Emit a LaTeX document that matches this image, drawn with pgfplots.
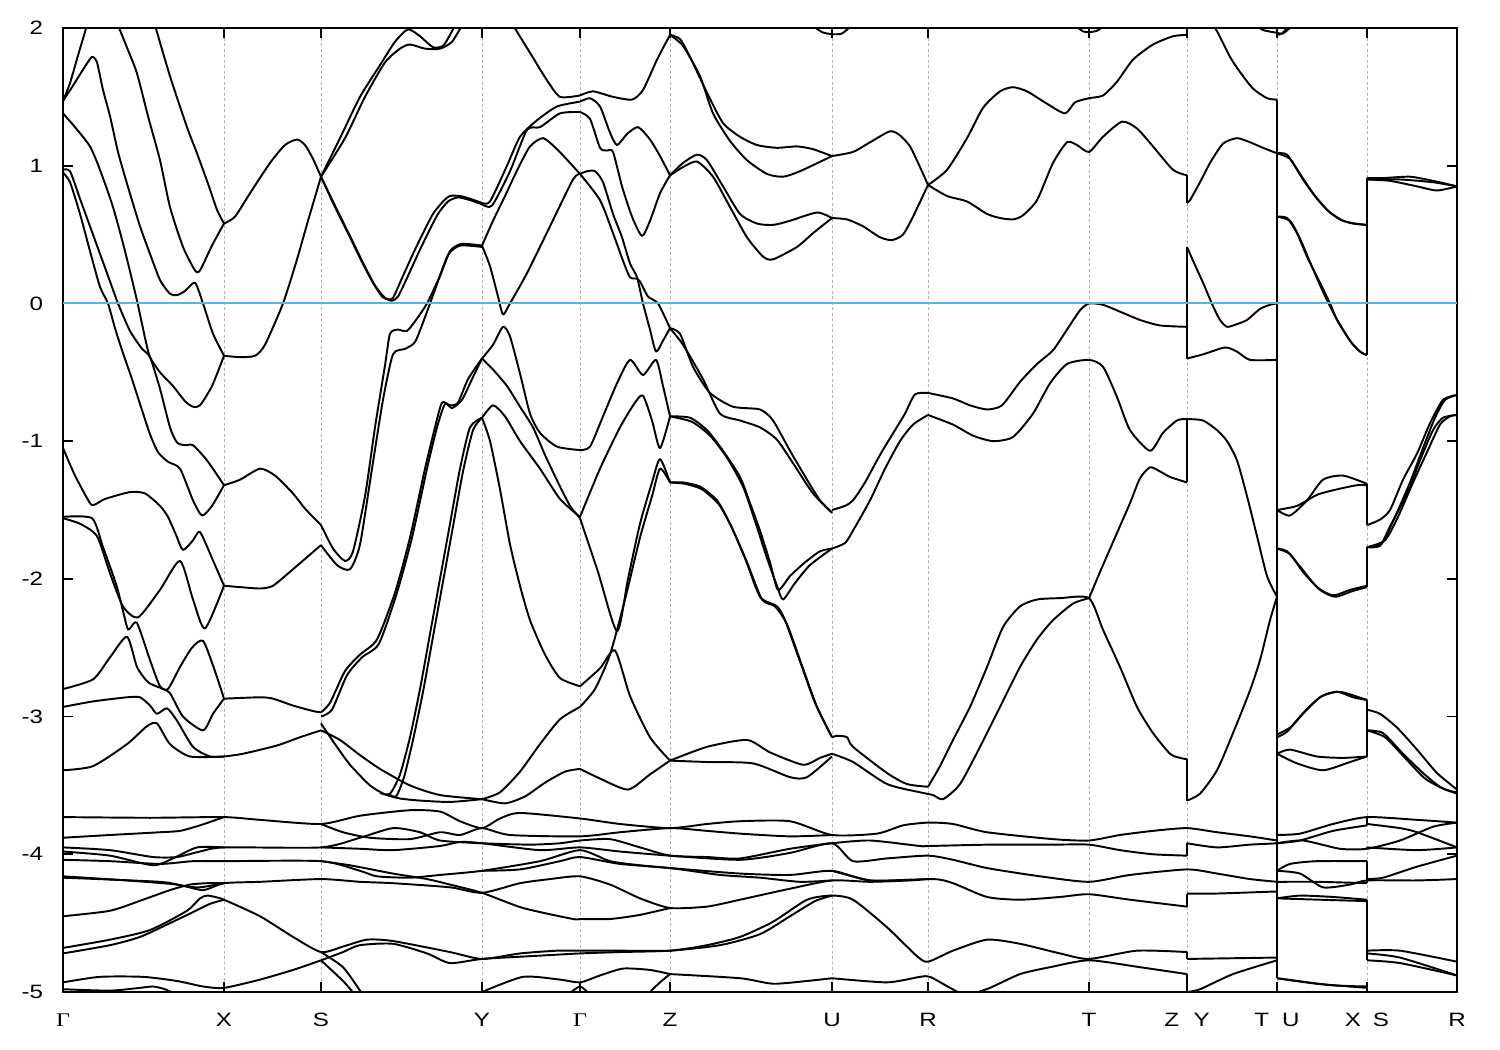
\documentclass[border=0pt]{standalone}
\usepackage{fontspec}
\setmainfont{Liberation Sans}
\newfontfamily\tickfont[FakeStretch=1.25]{Liberation Sans}
\newfontfamily\greekserif[FakeStretch=1.25]{Liberation Serif}
\usepackage{pgfplots}
\pgfplotsset{compat=1.18}
\definecolor{fermi}{RGB}{86,180,233}
% bd: smooth band piece, bj: straight piece (vertical jumps at path breaks)
\pgfplotsset{
  bj/.style={black, line width=1.1pt, line join=round},
  bd/.style={bj, smooth, tension=0.4},
}
\newcommand{\gam}{{\greekserif Γ}}

\begin{document}
\begin{tikzpicture}
\begin{axis}[
  scale only axis,
  width=27.88cm, height=19.28cm,
  xmin=63, xmax=1457, ymin=-5, ymax=2,
  xtick={63,224,321,482,580,670,832,928,1089,1187,1277,1367,1457},
  xticklabels={\gam,X,S,Y,\gam,Z,U,R,T,{Z\hspace{0.75em}Y},{T\hspace{0.67em}U},{X\hspace{0.62em}S},R},
  ytick={-5,-4,-3,-2,-1,0,1,2},
  yticklabels={-5,-4,-3,-2,-1,0,1,2},
  tick align=inside, tick pos=both,
  major tick length=0.2cm,
  every tick/.style={black, line width=1pt},
  axis line style={line width=1pt},
  xmajorgrids=true,
  major x grid style={gray!60, line width=0.5pt, dash pattern=on 0.055cm off 0.055cm},
  ticklabel style={font=\tickfont\fontsize{11}{13}\selectfont, inner sep=0pt},
  xticklabel style={anchor=north, yshift=-0.42cm},
  yticklabel style={anchor=east, xshift=-0.39cm},
  unbounded coords=jump,
]
% ---- Gamma - X
\addplot[bd] coordinates {(63,1.47) (70,1.6) (78,1.8) (87,2.02)};
\addplot[bd] coordinates {(63,1.47) (72,1.57) (85,1.72) (92,1.79) (97,1.75) (103,1.55) (110,1.36) (118,1.1) (127,0.87) (140,0.56) (150,0.36) (160,0.17) (170,0.07) (177,0.06) (185,0.09) (195,0.15) (203,0.0) (213,-0.22) (224,-0.38)};
\addplot[bd] coordinates {(118,2.02) (128,1.84) (137,1.67) (148,1.36) (160,1.04) (170,0.70) (183,0.41) (195,0.24) (200,0.24) (212,0.42) (224,0.58)};
\addplot[bd] coordinates {(155,2.02) (170,1.65) (187,1.28) (197,1.09) (208,0.87) (217,0.68) (224,0.58)};
\addplot[bd] coordinates {(63,1.38) (75,1.28) (90,1.14) (100,0.97) (113,0.70) (125,0.38) (137,0.02) (145,-0.25) (150,-0.39) (160,-0.5) (173,-0.6) (185,-0.71) (193,-0.75) (200,-0.74) (212,-0.6) (224,-0.38)};
\addplot[bd] coordinates {(63,0.97) (70,0.96) (80,0.76) (90,0.56) (100,0.36) (110,0.16) (118,0.0) (130,-0.2) (142,-0.33) (150,-0.39) (160,-0.62) (170,-0.9) (177,-1.01) (185,-1.03) (193,-1.03) (207,-1.14) (224,-1.32)};
\addplot[bd] coordinates {(63,0.95) (70,0.88) (80,0.65) (90,0.38) (100,0.12) (108,0.0) (115,-0.18) (123,-0.36) (132,-0.55) (140,-0.73) (150,-0.95) (158,-1.08) (168,-1.15) (180,-1.2) (193,-1.43) (202,-1.54) (212,-1.47) (224,-1.32)};
\addplot[bd] coordinates {(63,-1.05) (75,-1.25) (90,-1.45) (95,-1.46) (105,-1.42) (130,-1.37) (145,-1.38) (160,-1.47) (168,-1.55) (176,-1.68) (183,-1.79) (193,-1.72) (200,-1.66) (212,-1.85) (224,-2.05)};
\addplot[bd] coordinates {(63,-1.56) (80,-1.6) (97,-1.69) (110,-1.96) (123,-2.2) (138,-2.28) (160,-2.08) (180,-1.87) (193,-2.15) (205,-2.36) (224,-2.05)};
\addplot[bd] coordinates {(63,-1.55) (92,-1.56) (103,-1.77) (117,-2.06) (127,-2.35) (130,-2.36) (137,-2.32) (150,-2.59) (160,-2.78) (170,-2.83) (183,-3.0) (203,-3.1) (213,-2.98) (224,-2.87)};
\addplot[bd] coordinates {(63,-2.8) (93,-2.73) (110,-2.57) (127,-2.42) (137,-2.64) (148,-2.75) (160,-2.79) (168,-2.8) (180,-2.64) (192,-2.5) (203,-2.45) (214,-2.65) (224,-2.87)};
\addplot[bd] coordinates {(63,-2.93) (93,-2.89) (127,-2.86) (140,-2.86) (150,-2.92) (157,-2.98) (167,-2.94) (177,-3.03) (193,-3.22) (210,-3.29) (224,-3.29)};
\addplot[bd] coordinates {(63,-3.39) (93,-3.36) (127,-3.2) (147,-3.07) (157,-3.05) (170,-3.2) (190,-3.29) (224,-3.29)};
% ---- X - S
\addplot[bd] coordinates {(224,0.58) (235,0.63) (250,0.8) (270,1.02) (285,1.15) (297,1.19) (305,1.15) (313,1.05) (321,0.92)};
\addplot[bd] coordinates {(224,-0.38) (240,-0.39) (255,-0.38) (265,-0.3) (283,0.0) (297,0.32) (308,0.6) (321,0.92)};
\addplot[bd] coordinates {(224,-1.32) (240,-1.28) (260,-1.2) (275,-1.25) (293,-1.38) (305,-1.49) (321,-1.61)};
\addplot[bd] coordinates {(224,-2.05) (240,-2.06) (260,-2.07) (273,-2.05) (293,-1.93) (321,-1.755)};
\addplot[bd] coordinates {(224,-2.87) (260,-2.86) (273,-2.87) (293,-2.92) (313,-2.96) (321,-2.97)};
\addplot[bd] coordinates {(224,-3.29) (243,-3.27) (277,-3.21) (300,-3.15) (321,-3.1)};
% ---- S - Y
\addplot[bd] coordinates {(321,0.92) (340,1.2) (360,1.5) (380,1.73) (395,1.9) (408,1.99) (420,1.94) (433,1.86) (443,1.87) (450,1.95) (455,2.02)};
\addplot[bd] coordinates {(321,0.92) (345,1.2) (365,1.5) (385,1.75) (400,1.85) (410,1.88) (425,1.85) (440,1.85) (452,1.9) (462,2.02)};
\addplot[bd] coordinates {(321,0.92) (335,0.7) (350,0.48) (362,0.3) (373,0.15) (382,0.05) (388,0.03) (393,0.04) (403,0.2) (413,0.36) (423,0.51) (433,0.65) (443,0.74) (450,0.78) (460,0.78) (470,0.76) (482,0.73)};
\addplot[bd] coordinates {(321,0.92) (337,0.68) (352,0.46) (364,0.28) (375,0.13) (385,0.04) (392,0.02) (398,0.05) (408,0.2) (418,0.36) (428,0.51) (438,0.65) (448,0.74) (458,0.77) (470,0.75) (482,0.72)};
\addplot[bd] coordinates {(321,-1.61) (333,-1.78) (345,-1.87) (353,-1.8) (365,-1.4) (375,-0.9) (385,-0.45) (390,-0.22) (398,-0.19) (407,-0.2) (418,-0.1) (427,0.0) (440,0.2) (450,0.38) (460,0.43) (470,0.43) (482,0.42)};
\addplot[bd] coordinates {(321,-1.755) (337,-1.9) (350,-1.93) (360,-1.75) (372,-1.2) (383,-0.7) (393,-0.37) (405,-0.33) (415,-0.28) (425,-0.1) (435,0.1) (448,0.35) (460,0.42) (482,0.41)};
\addplot[bd] coordinates {(321,-2.97) (330,-2.9) (345,-2.67) (360,-2.55) (377,-2.44) (395,-2.1) (410,-1.7) (425,-1.2) (435,-0.9) (442,-0.72) (450,-0.74) (458,-0.72) (468,-0.55) (482,-0.4)};
\addplot[bd] coordinates {(321,-3.0) (332,-2.95) (347,-2.7) (362,-2.57) (379,-2.47) (397,-2.1) (412,-1.7) (427,-1.2) (437,-0.9) (445,-0.73) (452,-0.76) (462,-0.7) (472,-0.55) (482,-0.4)};
\addplot[bd] coordinates {(321,-3.05) (335,-3.2) (350,-3.35) (370,-3.5) (385,-3.565) (400,-3.595) (420,-3.61) (450,-3.62) (482,-3.6)};
\addplot[bd] coordinates {(321,-3.1) (340,-3.17) (360,-3.28) (380,-3.38) (410,-3.5) (440,-3.57) (482,-3.6)};
\addplot[bd] coordinates {(482,-0.83) (470,-0.9) (460,-1.2) (450,-1.6) (440,-2.0) (430,-2.4) (420,-2.8) (410,-3.15) (400,-3.42) (390,-3.56) (380,-3.555)};
\addplot[bd] coordinates {(482,-0.83) (473,-0.92) (463,-1.22) (453,-1.62) (443,-2.02) (433,-2.42) (423,-2.82) (413,-3.17) (404,-3.44) (396,-3.58) (388,-3.56)};
% ---- Y - Gamma
\addplot[bd] coordinates {(513,2.02) (530,1.82) (547,1.62) (560,1.5) (580,1.51)};
\addplot[bd] coordinates {(482,0.73) (490,0.74) (507,1.0) (520,1.21) (537,1.33) (557,1.43) (580,1.465)};
\addplot[bd] coordinates {(482,0.72) (492,0.71) (510,0.96) (527,1.26) (540,1.28) (560,1.38) (580,1.39)};
\addplot[bd] coordinates {(482,0.42) (493,0.6) (505,0.78) (518,0.98) (530,1.14) (543,1.2) (557,1.12) (570,1.02) (580,0.94)};
\addplot[bd] coordinates {(482,0.42) (490,0.27) (498,0.05) (503,-0.08) (510,0.0) (527,0.22) (550,0.56) (573,0.9) (580,0.94)};
\addplot[bd] coordinates {(482,-0.4) (493,-0.3) (503,-0.17) (510,-0.24) (520,-0.51) (530,-0.8) (540,-0.94) (557,-1.04) (580,-1.065)};
\addplot[bd] coordinates {(482,-0.4) (493,-0.48) (507,-0.6) (520,-0.75) (533,-0.9) (545,-1.1) (558,-1.3) (570,-1.47) (580,-1.56)};
\addplot[bd] coordinates {(482,-0.83) (493,-0.74) (505,-0.82) (520,-1.0) (540,-1.2) (560,-1.42) (580,-1.55)};
\addplot[bd] coordinates {(482,-0.83) (490,-1.0) (500,-1.35) (510,-1.75) (520,-2.05) (530,-2.3) (545,-2.55) (560,-2.72) (580,-2.78)};
\addplot[bd] coordinates {(482,-3.6) (500,-3.55) (520,-3.4) (540,-3.2) (560,-3.02) (580,-2.93)};
\addplot[bd] coordinates {(482,-3.6) (505,-3.63) (525,-3.58) (545,-3.48) (565,-3.4) (580,-3.38)};
% ---- Gamma - Z
\addplot[bd] coordinates {(580,1.51) (593,1.54) (613,1.5) (632,1.48) (643,1.55) (657,1.77) (670,1.95)};
\addplot[bd] coordinates {(580,1.465) (590,1.49) (600,1.43) (610,1.24) (617,1.15) (627,1.23) (638,1.28) (650,1.19) (660,1.07) (670,0.93)};
\addplot[bd] coordinates {(580,1.39) (590,1.34) (600,1.13) (607,1.11) (613,1.1) (622,0.85) (632,0.63) (642,0.49) (650,0.6) (660,0.8) (670,0.93)};
\addplot[bd] coordinates {(580,0.94) (587,0.96) (595,0.96) (603,0.88) (613,0.65) (622,0.48) (630,0.29) (637,0.19) (643,0.0) (650,-0.19) (656,-0.35) (663,-0.27) (670,-0.18)};
\addplot[bd] coordinates {(580,0.94) (600,0.75) (613,0.51) (623,0.31) (630,0.19) (637,0.18) (640,0.16) (648,0.05) (658,0.0) (670,-0.18)};
\addplot[bd] coordinates {(580,-1.065) (590,-1.04) (603,-0.82) (617,-0.58) (630,-0.41) (643,-0.52) (656,-0.41) (663,-0.6) (670,-0.82)};
\addplot[bd] coordinates {(580,-1.55) (600,-1.2) (620,-0.9) (635,-0.72) (643,-0.67) (652,-0.85) (660,-1.05) (670,-0.82)};
\addplot[bd] coordinates {(580,-1.56) (598,-1.95) (617,-2.38) (628,-2.0) (640,-1.6) (652,-1.3) (660,-1.13) (670,-1.3)};
\addplot[bd] coordinates {(580,-2.93) (595,-2.8) (610,-2.55) (625,-2.15) (640,-1.7) (652,-1.4) (660,-1.2) (670,-1.3)};
\addplot[bd] coordinates {(580,-2.78) (600,-2.65) (615,-2.52) (630,-2.85) (650,-3.15) (670,-3.32)};
\addplot[bd] coordinates {(580,-3.38) (600,-3.45) (628,-3.53) (650,-3.42) (670,-3.32)};
% ---- Z - U
\addplot[bd] coordinates {(670,1.95) (680,1.92) (690,1.79) (707,1.53) (723,1.31) (740,1.21) (757,1.15) (777,1.13) (797,1.14) (813,1.12) (832,1.07)};
\addplot[bd] coordinates {(670,1.95) (683,1.87) (700,1.65) (713,1.38) (730,1.18) (747,1.04) (767,0.94) (783,0.92) (800,0.96) (832,1.07)};
\addplot[bd] coordinates {(670,0.93) (683,1.02) (697,1.08) (707,1.04) (723,0.85) (740,0.65) (757,0.58) (773,0.57) (790,0.6) (817,0.66) (832,0.62)};
\addplot[bd] coordinates {(670,0.93) (683,0.99) (697,1.03) (713,0.92) (730,0.7) (747,0.48) (763,0.34) (773,0.32) (797,0.41) (813,0.51) (832,0.62)};
\addplot[bd] coordinates {(670,-0.18) (680,-0.22) (693,-0.46) (710,-0.65) (733,-0.75) (760,-0.77) (773,-0.85) (790,-1.07) (807,-1.28) (820,-1.43) (832,-1.52)};
\addplot[bd] coordinates {(670,-0.18) (683,-0.3) (703,-0.55) (720,-0.8) (740,-0.85) (760,-0.9) (777,-0.99) (793,-1.16) (813,-1.38) (832,-1.52)};
\addplot[bd] coordinates {(670,-0.82) (690,-0.83) (707,-0.92) (723,-1.07) (740,-1.26) (750,-1.45) (760,-1.65) (770,-1.88) (778,-2.08) (790,-1.98) (805,-1.88) (820,-1.8) (832,-1.78)};
\addplot[bd] coordinates {(670,-0.82) (692,-0.86) (710,-0.96) (727,-1.12) (743,-1.33) (755,-1.58) (767,-1.85) (777,-2.05) (783,-2.15) (795,-2.03) (810,-1.9) (832,-1.78)};
\addplot[bd] coordinates {(670,-1.3) (683,-1.3) (700,-1.33) (717,-1.43) (730,-1.6) (745,-1.85) (760,-2.13) (777,-2.2) (785,-2.3) (800,-2.6) (815,-2.9) (832,-3.15)};
\addplot[bd] coordinates {(670,-1.3) (685,-1.31) (702,-1.35) (719,-1.46) (732,-1.63) (747,-1.88) (762,-2.15) (775,-2.2) (787,-2.33) (802,-2.63) (817,-2.93) (832,-3.15)};
\addplot[bd] coordinates {(670,-3.32) (707,-3.22) (747,-3.17) (770,-3.26) (803,-3.35) (820,-3.3) (832,-3.27)};
\addplot[bd] coordinates {(670,-3.32) (707,-3.33) (753,-3.34) (790,-3.44) (807,-3.44) (832,-3.29)};
% ---- U - R
\addplot[bd] coordinates {(812,2.02) (822,1.97) (832,1.955) (842,1.96) (852,2.02)};
\addplot[bd] coordinates {(832,1.07) (853,1.1) (870,1.17) (890,1.25) (900,1.22) (910,1.14) (920,0.99) (928,0.86)};
\addplot[bd] coordinates {(832,0.62) (847,0.61) (863,0.56) (880,0.48) (892,0.46) (903,0.5) (913,0.63) (928,0.86)};
\addplot[bd] coordinates {(832,-1.5) (845,-1.47) (853,-1.43) (865,-1.3) (880,-1.1) (895,-0.92) (905,-0.8) (915,-0.66) (928,-0.65)};
\addplot[bd] coordinates {(832,-1.78) (845,-1.74) (853,-1.65) (870,-1.43) (885,-1.2) (900,-1.0) (913,-0.88) (928,-0.81)};
\addplot[bd] coordinates {(832,-3.15) (837,-3.14) (847,-3.15) (853,-3.22) (887,-3.41) (907,-3.49) (928,-3.51)};
\addplot[bd] coordinates {(832,-3.27) (853,-3.33) (887,-3.49) (920,-3.55) (933,-3.57) (943,-3.6) (960,-3.49) (980,-3.22) (1000,-2.93) (1020,-2.64) (1037,-2.44) (1053,-2.3) (1073,-2.18) (1089,-2.14)};
% ---- R - T - Z
\addplot[bd] coordinates {(928,0.86) (947,0.97) (967,1.2) (983,1.42) (1000,1.54) (1013,1.57) (1027,1.54) (1047,1.45) (1065,1.38) (1075,1.46) (1089,1.49) (1103,1.51) (1117,1.61) (1133,1.77) (1153,1.88) (1173,1.94) (1187,1.95)};
\addplot[bd] coordinates {(928,0.86) (947,0.78) (967,0.74) (987,0.65) (1000,0.62) (1013,0.61) (1023,0.64) (1037,0.75) (1053,1.02) (1067,1.17) (1077,1.15) (1089,1.1) (1103,1.21) (1122,1.32) (1137,1.27) (1153,1.14) (1173,0.97) (1187,0.93)};
\addplot[bd] coordinates {(928,-0.65) (953,-0.69) (970,-0.74) (987,-0.77) (1002,-0.74) (1020,-0.57) (1037,-0.44) (1053,-0.34) (1067,-0.19) (1080,-0.05) (1089,0.0) (1103,-0.01) (1120,-0.06) (1140,-0.12) (1160,-0.16) (1187,-0.17)};
\addplot[bd] coordinates {(928,-0.81) (953,-0.88) (973,-0.96) (993,-1.0) (1013,-0.97) (1033,-0.8) (1050,-0.58) (1067,-0.44) (1089,-0.41) (1103,-0.46) (1117,-0.68) (1130,-0.92) (1150,-1.07) (1163,-0.94) (1177,-0.85) (1187,-0.84) (1203,-0.85) (1217,-0.92) (1227,-1.0) (1237,-1.14) (1247,-1.4) (1257,-1.69) (1267,-1.98) (1277,-2.13)};
\addplot[bd] coordinates {(928,-3.51) (940,-3.36) (953,-3.17) (970,-2.93) (987,-2.64) (1003,-2.35) (1020,-2.2) (1037,-2.15) (1060,-2.14) (1089,-2.14) (1103,-2.37) (1120,-2.64) (1137,-2.93) (1153,-3.12) (1170,-3.27) (1180,-3.3) (1187,-3.31)};
\addplot[bd] coordinates {(1089,-2.14) (1100,-1.95) (1115,-1.7) (1130,-1.45) (1140,-1.27) (1150,-1.19) (1160,-1.22) (1170,-1.26) (1187,-1.3)};
\addplot[bd] coordinates {(1075,2.02) (1083,1.975) (1089,1.97) (1097,1.98) (1105,2.02)};
% ---- Y - T
\addplot[bd] coordinates {(1200,2.1) (1215,2.0) (1230,1.79) (1240,1.68) (1253,1.56) (1267,1.49) (1277,1.48)};
\addplot[bd] coordinates {(1187,0.73) (1190,0.75) (1200,0.88) (1210,1.02) (1223,1.16) (1237,1.2) (1250,1.17) (1263,1.13) (1277,1.09)};
\addplot[bd] coordinates {(1187,0.41) (1193,0.31) (1203,0.15) (1213,-0.02) (1220,-0.12) (1227,-0.17) (1237,-0.15) (1247,-0.12) (1260,-0.04) (1270,-0.01) (1277,0.0)};
\addplot[bd] coordinates {(1187,-0.4) (1203,-0.37) (1225,-0.32) (1237,-0.35) (1250,-0.41) (1277,-0.41)};
\addplot[bd] coordinates {(1187,-3.61) (1200,-3.56) (1217,-3.39) (1233,-3.12) (1250,-2.81) (1260,-2.59) (1270,-2.30) (1277,-2.13)};
\addplot[bd] coordinates {(1257,2.02) (1263,1.985) (1277,1.965) (1283,1.96) (1293,2.02)};
\addplot[bd] coordinates {(1277,1.95) (1282,1.96) (1290,2.02)};
% ---- U - X
\addplot[bd] coordinates {(1277,1.09) (1287,1.08) (1300,0.94) (1313,0.80) (1327,0.68) (1340,0.61) (1353,0.58) (1367,0.57)};
\addplot[bd] coordinates {(1277,1.09) (1290,1.05) (1303,0.9) (1317,0.76) (1330,0.66) (1343,0.6) (1355,0.58) (1367,0.57)};
\addplot[bd] coordinates {(1277,0.63) (1287,0.62) (1297,0.51) (1307,0.34) (1320,0.15) (1330,0.0) (1337,-0.12) (1350,-0.27) (1360,-0.35) (1367,-0.375)};
\addplot[bd] coordinates {(1277,0.63) (1290,0.6) (1300,0.47) (1310,0.3) (1322,0.1) (1332,-0.05) (1342,-0.18) (1353,-0.3) (1362,-0.36) (1367,-0.375)};
\addplot[bd] coordinates {(1277,-1.5) (1290,-1.54) (1307,-1.43) (1323,-1.28) (1343,-1.25) (1367,-1.31)};
\addplot[bd] coordinates {(1277,-1.5) (1297,-1.47) (1317,-1.39) (1337,-1.35) (1357,-1.32) (1367,-1.32)};
\addplot[bd] coordinates {(1277,-1.78) (1287,-1.8) (1300,-1.91) (1317,-2.06) (1333,-2.12) (1350,-2.08) (1367,-2.05)};
\addplot[bd] coordinates {(1277,-1.78) (1290,-1.82) (1303,-1.95) (1320,-2.08) (1335,-2.13) (1352,-2.09) (1367,-2.06)};
\addplot[bd] coordinates {(1277,-3.15) (1287,-3.11) (1303,-2.98) (1320,-2.86) (1337,-2.82) (1353,-2.86) (1367,-2.88)};
\addplot[bd] coordinates {(1277,-3.13) (1290,-3.08) (1305,-2.96) (1322,-2.85) (1340,-2.82) (1367,-2.88)};
\addplot[bd] coordinates {(1277,-3.27) (1290,-3.24) (1317,-3.29) (1343,-3.3) (1367,-3.29)};
\addplot[bd] coordinates {(1277,-3.27) (1297,-3.34) (1323,-3.39) (1350,-3.33) (1367,-3.29)};
% ---- S - R
\addplot[bd] coordinates {(1367,0.91) (1383,0.91) (1410,0.92) (1433,0.89) (1457,0.85)};
\addplot[bd] coordinates {(1367,0.9) (1390,0.89) (1417,0.85) (1437,0.82) (1457,0.85)};
\addplot[bd] coordinates {(1367,0.9) (1400,0.9) (1433,0.88) (1457,0.85)};
\addplot[bd] coordinates {(1367,-1.61) (1380,-1.57) (1390,-1.5) (1403,-1.28) (1417,-1.09) (1430,-0.87) (1443,-0.70) (1457,-0.665)};
\addplot[bd] coordinates {(1367,-1.77) (1380,-1.76) (1390,-1.62) (1407,-1.38) (1420,-1.14) (1433,-0.92) (1443,-0.83) (1457,-0.81)};
\addplot[bd] coordinates {(1367,-1.77) (1382,-1.74) (1395,-1.55) (1410,-1.3) (1423,-1.05) (1435,-0.83) (1445,-0.7) (1457,-0.665)};
\addplot[bd] coordinates {(1367,-1.77) (1385,-1.72) (1398,-1.55) (1413,-1.3) (1427,-1.08) (1440,-0.88) (1450,-0.82) (1457,-0.81)};
\addplot[bd] coordinates {(1367,-2.95) (1380,-2.98) (1397,-3.08) (1417,-3.24) (1437,-3.41) (1457,-3.53)};
\addplot[bd] coordinates {(1367,-3.1) (1383,-3.12) (1403,-3.27) (1423,-3.41) (1440,-3.51) (1457,-3.56)};
\addplot[bd] coordinates {(1367,-3.1) (1385,-3.15) (1405,-3.3) (1425,-3.45) (1445,-3.53) (1457,-3.55)};
% ---- lower manifold
\addplot[bd] coordinates {(63,-3.73) (150,-3.735) (224,-3.73) (260,-3.75) (321,-3.78) (360,-3.72) (410,-3.68) (440,-3.69) (460,-3.76) (482,-3.81) (500,-3.74) (520,-3.7) (580,-3.74) (620,-3.78) (670,-3.81) (707,-3.78) (740,-3.76) (790,-3.76) (832,-3.86) (877,-3.85) (903,-3.79) (928,-3.77) (953,-3.78) (987,-3.84) (1053,-3.89) (1089,-3.9) (1120,-3.86) (1153,-3.83) (1187,-3.81) (1217,-3.84) (1250,-3.87) (1277,-3.9)};
\addplot[bd] coordinates {(1277,-3.86) (1300,-3.85) (1333,-3.78) (1367,-3.73) (1417,-3.75) (1457,-3.77)};
\addplot[bd] coordinates {(63,-3.88) (110,-3.86) (160,-3.84) (180,-3.83) (200,-3.79) (224,-3.73)};
\addplot[bd] coordinates {(63,-3.95) (110,-3.97) (153,-4.02) (177,-4.02) (200,-3.98) (224,-3.95) (321,-3.95) (360,-3.88) (393,-3.81) (420,-3.84) (440,-3.9) (482,-3.92) (530,-3.93) (560,-3.92) (580,-3.9) (610,-3.89) (640,-3.95) (670,-4.01) (707,-4.02) (740,-4.03) (790,-3.96) (832,-3.92) (870,-3.9) (920,-3.94) (928,-3.94) (990,-3.93) (1053,-3.93) (1089,-3.93) (1120,-3.97) (1153,-4.0) (1187,-4.01)};
\addplot[bd] coordinates {(1187,-3.92) (1217,-3.95) (1250,-3.93) (1277,-3.92) (1300,-3.9) (1333,-3.83) (1367,-3.79)};
\addplot[bd] coordinates {(1367,-3.78) (1400,-3.81) (1417,-3.84) (1457,-3.95)};
\addplot[bd] coordinates {(63,-3.98) (110,-4.01) (153,-4.08) (173,-4.03) (197,-3.95) (224,-3.95)};
\addplot[bd] coordinates {(63,-4.04) (110,-4.05) (160,-4.07) (193,-4.05) (224,-4.05) (321,-4.05) (360,-4.12) (377,-4.16) (410,-4.17) (440,-4.15) (482,-4.12) (540,-4.05) (580,-3.97) (610,-4.05) (640,-4.08) (670,-4.1) (740,-4.14) (790,-4.15) (832,-4.12) (870,-4.19) (933,-4.18) (953,-4.21) (987,-4.31) (1020,-4.33) (1060,-4.31) (1089,-4.29) (1130,-4.33) (1187,-4.38)};
\addplot[bd] coordinates {(1187,-4.285) (1217,-4.285) (1277,-4.27)};
\addplot[bd] coordinates {(1277,-4.32) (1300,-4.3) (1333,-4.31) (1367,-4.33)};
\addplot[bd] coordinates {(1367,-4.7) (1400,-4.7) (1457,-4.78)};
\addplot[bd] coordinates {(63,-4.16) (127,-4.19) (177,-4.22) (203,-4.26) (224,-4.21) (260,-4.2) (321,-4.18) (360,-4.2) (393,-4.21) (450,-4.24) (482,-4.28) (520,-4.21) (550,-4.18) (580,-4.16) (610,-4.22) (640,-4.32) (670,-4.39) (707,-4.38) (740,-4.33) (790,-4.25) (832,-4.19) (870,-4.2) (910,-4.19) (928,-4.18)};
\addplot[bd] coordinates {(63,-4.17) (160,-4.2) (183,-4.23) (200,-4.24) (224,-4.21)};
\addplot[bd] coordinates {(63,-4.45) (110,-4.41) (143,-4.33) (170,-4.26) (190,-4.22) (207,-4.21) (224,-4.21)};
\addplot[bd] coordinates {(63,-4.68) (110,-4.62) (150,-4.55) (187,-4.41) (200,-4.32) (207,-4.30) (215,-4.31) (224,-4.33) (260,-4.45) (293,-4.6) (321,-4.71) (343,-4.67) (367,-4.62) (393,-4.63) (450,-4.71) (482,-4.76) (520,-4.72) (557,-4.7) (580,-4.7) (620,-4.7) (670,-4.7) (707,-4.66) (740,-4.6) (773,-4.49) (807,-4.33) (832,-4.3) (853,-4.33) (887,-4.53) (917,-4.74) (928,-4.78) (953,-4.7) (987,-4.62) (1020,-4.65) (1060,-4.72) (1089,-4.76) (1137,-4.70) (1187,-4.71)};
\addplot[bd] coordinates {(1187,-4.76) (1277,-4.75)};
\addplot[bd] coordinates {(1277,-4.9) (1317,-4.94) (1367,-4.97)};
\addplot[bd] coordinates {(1367,-4.77) (1400,-4.79) (1457,-4.88)};
\addplot[bd] coordinates {(63,-4.72) (110,-4.66) (140,-4.6) (170,-4.5) (193,-4.42) (210,-4.36) (224,-4.33)};
\addplot[bd] coordinates {(63,-4.93) (100,-4.89) (143,-4.89) (177,-4.92) (203,-4.96) (224,-4.97) (260,-4.91) (293,-4.84) (321,-4.77) (343,-4.71) (360,-4.66) (393,-4.65) (427,-4.72) (450,-4.79) (482,-4.76) (530,-4.74) (580,-4.72) (620,-4.71) (670,-4.7) (720,-4.66) (760,-4.58) (790,-4.45) (815,-4.34) (832,-4.3)};
\addplot[bd] coordinates {(63,-4.98) (110,-4.99) (140,-4.97) (153,-4.96) (165,-4.98) (177,-5.02)};
\addplot[bd] coordinates {(321,-4.71) (343,-4.82) (360,-4.99) (362,-5.02)};
\addplot[bd] coordinates {(321,-4.77) (343,-4.92) (355,-5.02)};
\addplot[bd] coordinates {(321,-3.78) (343,-3.84) (370,-3.88) (410,-3.89) (440,-3.84) (460,-3.86) (482,-3.81) (510,-3.86) (580,-3.87) (620,-3.84) (670,-3.81) (707,-3.83) (740,-3.85) (790,-3.87) (832,-3.86)};
\addplot[bd] coordinates {(321,-3.95) (360,-3.96) (393,-3.97) (440,-3.94) (460,-3.91) (482,-3.92) (540,-3.97) (580,-3.95) (620,-3.98) (670,-4.01) (740,-4.04) (790,-3.99) (832,-3.92) (853,-4.05) (887,-4.03) (928,-4.01) (953,-4.04) (987,-4.1) (1040,-4.16) (1089,-4.2) (1130,-4.15) (1187,-4.11) (1217,-4.14) (1250,-4.18) (1277,-4.2)};
\addplot[bd] coordinates {(1277,-4.12) (1290,-4.07) (1317,-4.05) (1367,-4.05)};
\addplot[bd] coordinates {(1367,-4.18) (1383,-4.17) (1417,-4.09) (1457,-4.01)};
\addplot[bd] coordinates {(321,-4.05) (350,-4.08) (393,-4.14) (427,-4.18) (450,-4.22) (482,-4.28) (523,-4.39) (573,-4.47) (580,-4.47) (610,-4.47) (640,-4.44) (670,-4.39)};
\addplot[bd] coordinates {(482,-4.12) (520,-4.11) (560,-4.05) (580,-4.02) (620,-4.07) (670,-4.1) (720,-4.15) (760,-4.17) (800,-4.2) (832,-4.19)};
\addplot[bd] coordinates {(832,-4.12) (870,-4.19) (900,-4.19)};
\addplot[bd] coordinates {(832,-4.9) (887,-4.93) (920,-4.89) (930,-4.89) (950,-4.97) (963,-5.02)};
\addplot[bd] coordinates {(670,-4.87) (740,-4.9) (773,-4.94) (807,-4.92) (832,-4.9)};
\addplot[bd] coordinates {(482,-5.0) (523,-4.89) (560,-4.91) (580,-4.93) (600,-4.88) (623,-4.83) (650,-4.84) (670,-4.87)};
\addplot[bd] coordinates {(647,-5.02) (660,-4.93) (670,-4.87)};
\addplot[bd] coordinates {(568,-5.02) (580,-4.96) (590,-5.02)};
\addplot[bd] coordinates {(970,-5.02) (990,-4.97) (1020,-4.87) (1050,-4.82) (1089,-4.77) (1140,-4.82) (1187,-4.87)};
\addplot[bd] coordinates {(1187,-5.0) (1200,-4.98) (1233,-4.87) (1277,-4.77)};
\addplot[bd] coordinates {(1277,-3.92) (1303,-3.9) (1340,-3.96) (1367,-3.96) (1400,-3.9) (1433,-3.8) (1457,-3.77)};
\addplot[bd] coordinates {(1277,-4.12) (1300,-4.14) (1323,-4.24) (1350,-4.22) (1367,-4.19) (1417,-4.19) (1457,-4.18)};
\addplot[bd] coordinates {(1277,-4.2) (1317,-4.2) (1367,-4.21)};
\addplot[bd] coordinates {(1277,-4.32) (1320,-4.33) (1367,-4.34)};
\addplot[bd] coordinates {(1277,-4.9) (1330,-4.95) (1367,-4.96)};
\addplot[bd] coordinates {(1367,-3.95) (1417,-3.97) (1457,-3.95)};
\addplot[bd] coordinates {(1367,-4.72) (1400,-4.75) (1457,-4.88)};
% ---- vertical jumps where the path breaks (Z|Y, T|U, X|S)
\addplot[bj] coordinates {(1187,1.95) (1187,2.1) (1187,nan) (1187,0.93) (1187,0.73) (1187,nan) (1187,0.41) (1187,-0.4) (1187,nan) (1187,-0.84) (1187,-1.3) (1187,nan) (1187,-3.31) (1187,-3.61) (1187,nan) (1187,-3.92) (1187,-4.01) (1187,nan) (1187,-4.285) (1187,-4.38) (1187,nan) (1187,-4.71) (1187,-4.76) (1187,nan) (1187,-4.87) (1187,-5.0)};
\addplot[bj] coordinates {(1277,1.48) (1277,-4.9)};
\addplot[bj] coordinates {(1367,0.91) (1367,-0.375) (1367,nan) (1367,-1.31) (1367,-1.61) (1367,nan) (1367,-1.77) (1367,-2.06) (1367,nan) (1367,-2.88) (1367,-3.29) (1367,nan) (1367,-3.73) (1367,-3.79) (1367,nan) (1367,-3.95) (1367,-3.96) (1367,nan) (1367,-4.05) (1367,-4.21) (1367,nan) (1367,-4.33) (1367,-4.77) (1367,nan) (1367,-4.96) (1367,-4.97)};
% ---- Fermi level
\addplot[color=fermi, line width=1.1pt] coordinates {(63,0) (1457,0)};
\end{axis}
\pgfresetboundingbox
\path[use as bounding box] (current axis.south west) ++(-1.26cm,-1.16cm) rectangle ([shift={(0.86cm,0.56cm)}]current axis.north east);
\end{tikzpicture}
\end{document}
